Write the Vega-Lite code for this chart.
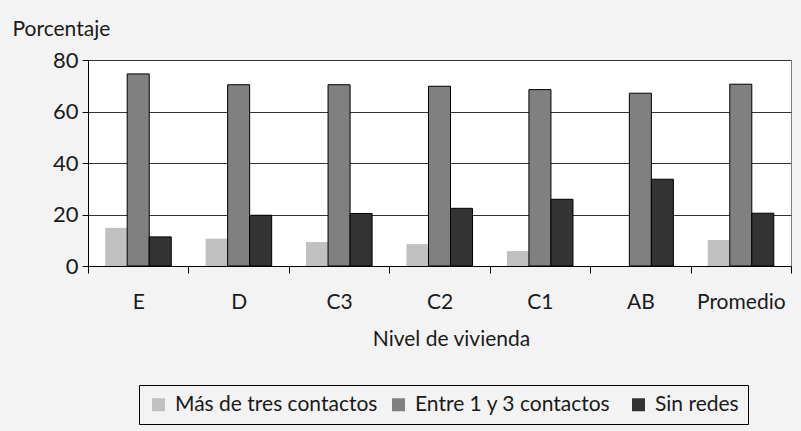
{
  "$schema": "https://vega.github.io/schema/vega-lite/v6.json",
  "width": 703,
  "height": 206,
  "padding": {"left": 88, "top": 60, "right": 10, "bottom": 165},
  "autosize": {"type": "none"},
  "background": "#f3f3f3",
  "config": {
    "font": "Lato",
    "view": {"fill": "white", "stroke": "#808080", "strokeWidth": 1},
    "axis": {"labelFont": "Lato", "titleFont": "Lato", "labelColor": "#1a1a1a", "titleColor": "#1a1a1a", "titleFontWeight": "normal", "labelFontSize": 21, "titleFontSize": 21}
  },
  "data": {
    "values": [
      {"nivel": "E", "serie": "Más de tres contactos", "orden": 1, "valor": 14.8},
      {"nivel": "E", "serie": "Entre 1 y 3 contactos", "orden": 2, "valor": 74.6},
      {"nivel": "E", "serie": "Sin redes", "orden": 3, "valor": 11.3},
      {"nivel": "D", "serie": "Más de tres contactos", "orden": 1, "valor": 10.6},
      {"nivel": "D", "serie": "Entre 1 y 3 contactos", "orden": 2, "valor": 70.4},
      {"nivel": "D", "serie": "Sin redes", "orden": 3, "valor": 19.7},
      {"nivel": "C3", "serie": "Más de tres contactos", "orden": 1, "valor": 9.3},
      {"nivel": "C3", "serie": "Entre 1 y 3 contactos", "orden": 2, "valor": 70.4},
      {"nivel": "C3", "serie": "Sin redes", "orden": 3, "valor": 20.4},
      {"nivel": "C2", "serie": "Más de tres contactos", "orden": 1, "valor": 8.5},
      {"nivel": "C2", "serie": "Entre 1 y 3 contactos", "orden": 2, "valor": 69.8},
      {"nivel": "C2", "serie": "Sin redes", "orden": 3, "valor": 22.4},
      {"nivel": "C1", "serie": "Más de tres contactos", "orden": 1, "valor": 5.8},
      {"nivel": "C1", "serie": "Entre 1 y 3 contactos", "orden": 2, "valor": 68.5},
      {"nivel": "C1", "serie": "Sin redes", "orden": 3, "valor": 25.9},
      {"nivel": "AB", "serie": "Más de tres contactos", "orden": 1, "valor": 0},
      {"nivel": "AB", "serie": "Entre 1 y 3 contactos", "orden": 2, "valor": 67.1},
      {"nivel": "AB", "serie": "Sin redes", "orden": 3, "valor": 33.7},
      {"nivel": "Promedio", "serie": "Más de tres contactos", "orden": 1, "valor": 10.1},
      {"nivel": "Promedio", "serie": "Entre 1 y 3 contactos", "orden": 2, "valor": 70.6},
      {"nivel": "Promedio", "serie": "Sin redes", "orden": 3, "valor": 20.5}
    ]
  },
  "mark": {"type": "bar", "strokeWidth": 1},
  "encoding": {
    "x": {
      "field": "nivel", "type": "nominal",
      "sort": ["E", "D", "C3", "C2", "C1", "AB", "Promedio"],
      "scale": {"paddingInner": 0, "paddingOuter": 0},
      "axis": {
        "title": "Nivel de vivienda", "labelAngle": 0, "tickBand": "extent",
        "domainColor": "#000", "tickColor": "#000", "tickSize": 7,
        "labelPadding": 18, "titleX": 363, "titleY": 62, "titleAlign": "center", "titleBaseline": "top"
      }
    },
    "xOffset": {
      "field": "serie", "type": "nominal",
      "sort": ["Más de tres contactos", "Entre 1 y 3 contactos", "Sin redes"],
      "scale": {"paddingInner": 0, "paddingOuter": 0.78}
    },
    "y": {
      "field": "valor", "type": "quantitative",
      "scale": {"domain": [0, 80]},
      "axis": {
        "title": "Porcentaje", "values": [0, 20, 40, 60, 80], "titleAngle": 0,
        "titleX": -76, "titleY": -25, "titleAlign": "left", "titleBaseline": "alphabetic",
        "labelFontSize": 22,
        "domainColor": "#000", "tickColor": "#000", "tickSize": 6, "labelPadding": 4,
        "gridColor": "#333333", "gridOpacity": 1
      }
    },
    "fill": {
      "field": "serie", "type": "nominal",
      "sort": ["Más de tres contactos", "Entre 1 y 3 contactos", "Sin redes"],
      "scale": {"range": ["#c0c0c0", "#808080", "#333333"]},
      "legend": {
        "title": null, "orient": "none", "legendX": 51, "legendY": 325,
        "direction": "horizontal", "columns": 3, "gridAlign": "all",
        "strokeColor": "#000", "fillColor": "#f3f3f3", "padding": 9,
        "symbolType": "square", "symbolSize": 169, "symbolStrokeWidth": 1,
        "labelFont": "Lato", "labelFontSize": 21, "labelColor": "#1a1a1a", "labelOffset": 6,
        "columnPadding": 10, "labelLimit": 400
      }
    },
    "stroke": {
      "field": "serie", "type": "nominal",
      "sort": ["Más de tres contactos", "Entre 1 y 3 contactos", "Sin redes"],
      "scale": {"range": ["transparent", "#000000", "#000000"]}
    }
  }
}
